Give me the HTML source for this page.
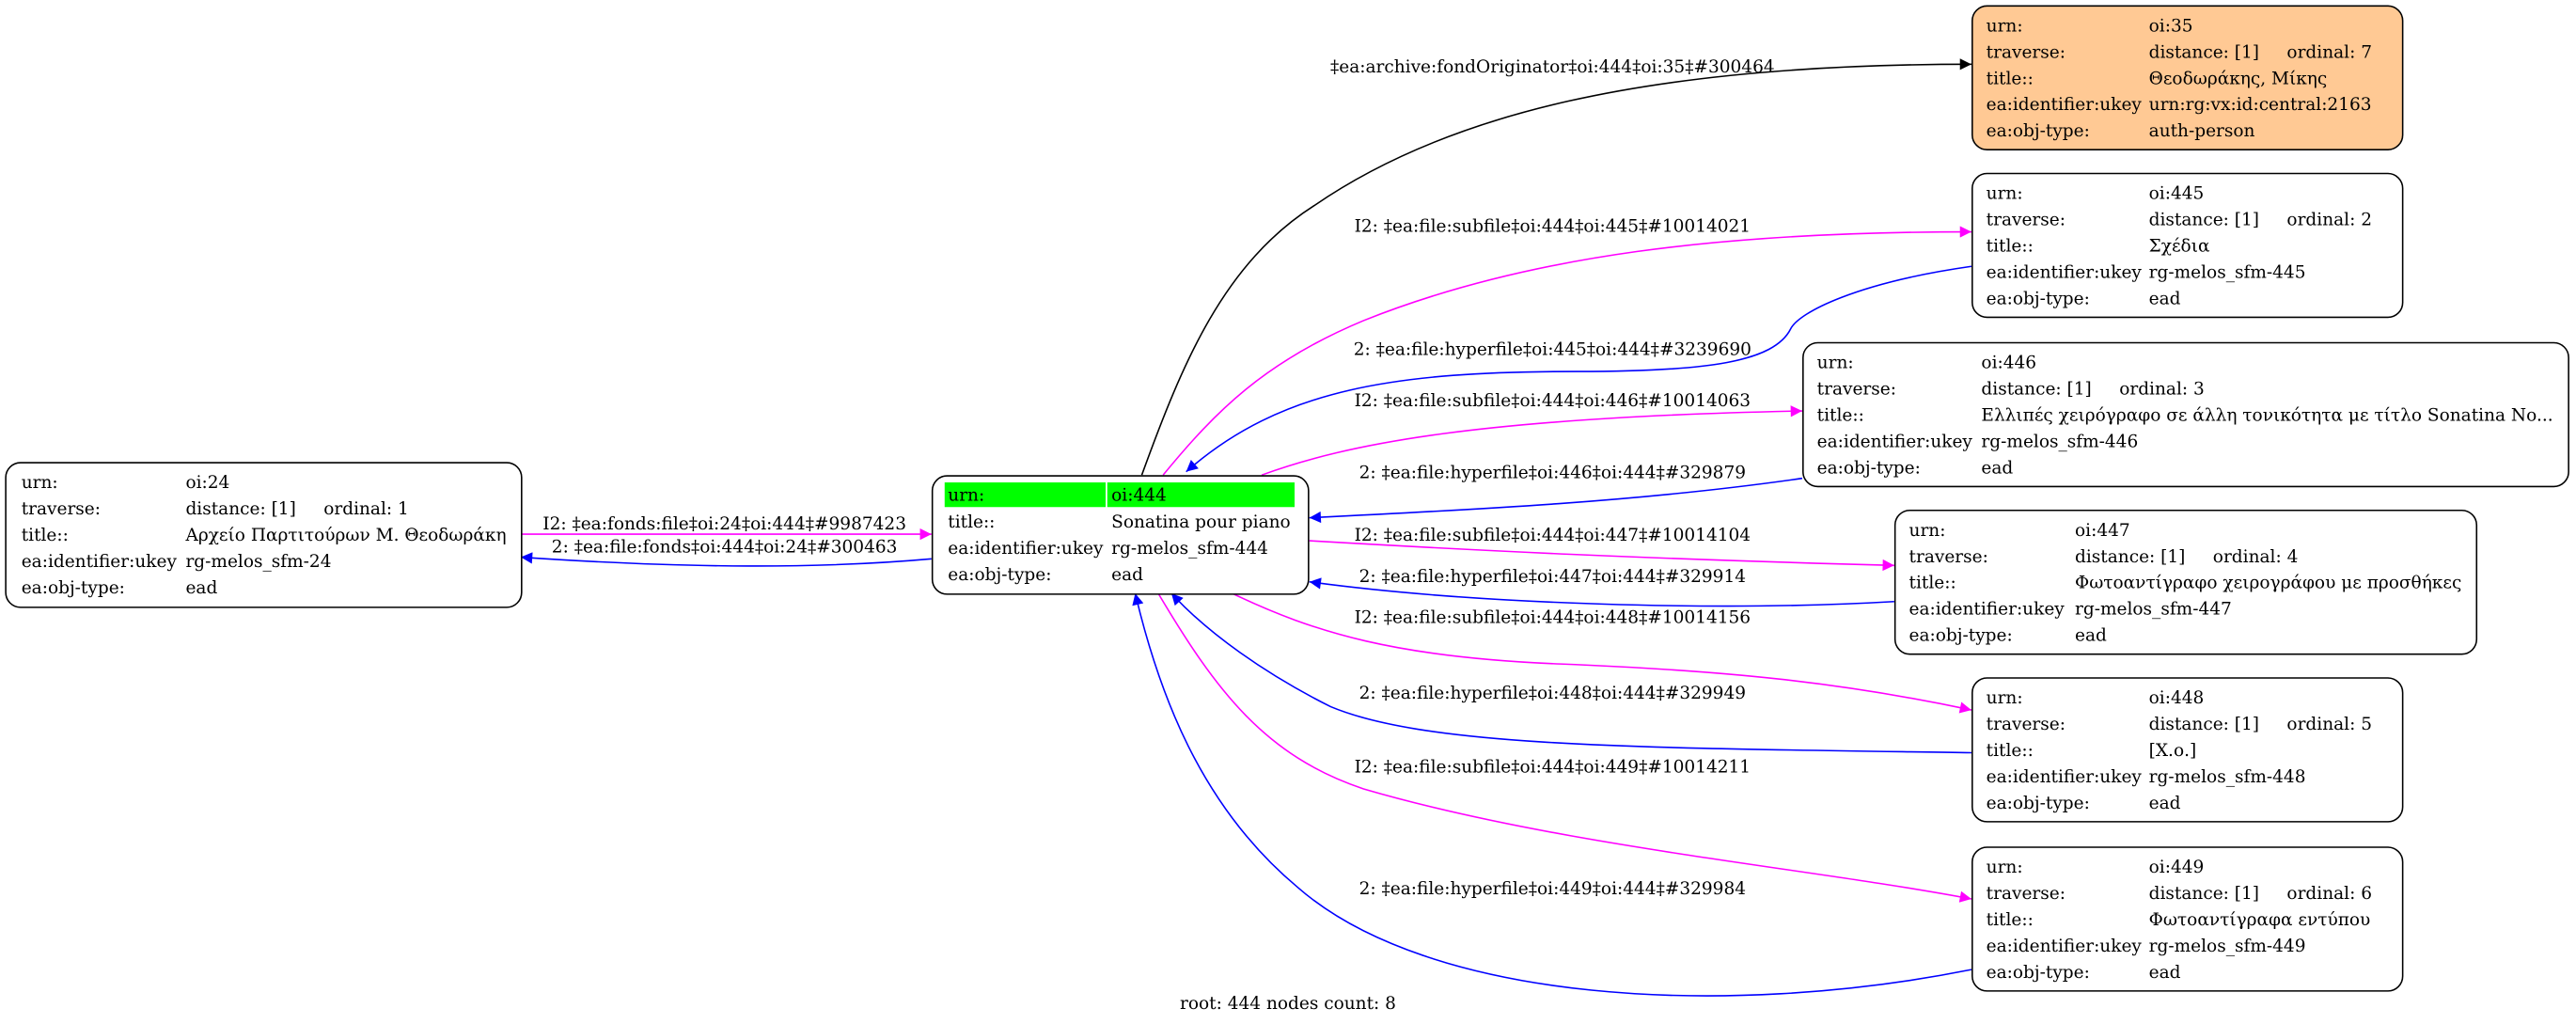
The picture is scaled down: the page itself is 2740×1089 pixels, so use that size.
<!DOCTYPE html>
<html><head><meta charset="utf-8">
<style>
html,body{margin:0;padding:0;background:#fff;}
svg{display:block;}
text{font-family:"DejaVu Serif","Liberation Serif",serif;font-size:10.6px;fill:#000;}
</style></head>
<body>
<svg width="2740" height="1089" viewBox="0 0 1568 623" xmlns="http://www.w3.org/2000/svg">
<defs>
<marker id="ak" viewBox="0 0 10 10" refX="10" refY="5" markerWidth="10" markerHeight="7" markerUnits="userSpaceOnUse" orient="auto"><path d="M0,0L10,5L0,10z" fill="#000"/></marker>
<marker id="am" viewBox="0 0 10 10" refX="10" refY="5" markerWidth="10" markerHeight="7" markerUnits="userSpaceOnUse" orient="auto"><path d="M0,0L10,5L0,10z" fill="#f0f"/></marker>
<marker id="ab" viewBox="0 0 10 10" refX="10" refY="5" markerWidth="10" markerHeight="7" markerUnits="userSpaceOnUse" orient="auto"><path d="M0,0L10,5L0,10z" fill="#00f"/></marker>
</defs>
<g fill="none" stroke-width="0.9">
<path d="M695,289 C720,220 745,160 800,125 C880,70 1000,39 1200,39" stroke="#000" marker-end="url(#ak)"/>
<path d="M708,289 C740,250 770,220 830,195 C930,155 1050,141 1200,141" stroke="#f0f" marker-end="url(#am)"/>
<path d="M1200,162 C1130,172 1095,190 1090,200 C1080,220 1040,226 960,226 C850,226 780,236 722,287" stroke="#00f" marker-end="url(#ab)"/>
<path d="M768,289 C820,270 900,254 1097,250" stroke="#f0f" marker-end="url(#am)"/>
<path d="M1097,291 C1000,305 900,310 797,315" stroke="#00f" marker-end="url(#ab)"/>
<path d="M797,329 C900,335 1000,340 1153,344" stroke="#f0f" marker-end="url(#am)"/>
<path d="M1153,366 C1050,372 900,368 797,354" stroke="#00f" marker-end="url(#ab)"/>
<path d="M750,361 C800,385 850,400 950,404 C1050,408 1120,415 1200,432" stroke="#f0f" marker-end="url(#am)"/>
<path d="M1200,458 C1000,455 870,455 810,430 C770,410 735,385 713,361" stroke="#00f" marker-end="url(#ab)"/>
<path d="M705,361 C740,420 770,460 830,480 C950,515 1100,528 1200,547" stroke="#f0f" marker-end="url(#am)"/>
<path d="M1200,590 C1050,620 870,610 790,540 C730,490 705,420 691,361" stroke="#00f" marker-end="url(#ab)"/>
<path d="M317,325 L567,325" stroke="#f0f" marker-end="url(#am)"/>
<path d="M567,340 C500,346 420,346 317,339" stroke="#00f" marker-end="url(#ab)"/>
</g>
<g text-anchor="middle">
<text x="945" y="44">‡ea:archive:fondOriginator‡oi:444‡oi:35‡#300464</text>
<text x="945" y="141">I2: ‡ea:file:subfile‡oi:444‡oi:445‡#10014021</text>
<text x="945" y="216">2: ‡ea:file:hyperfile‡oi:445‡oi:444‡#3239690</text>
<text x="945" y="247">I2: ‡ea:file:subfile‡oi:444‡oi:446‡#10014063</text>
<text x="945" y="291">2: ‡ea:file:hyperfile‡oi:446‡oi:444‡#329879</text>
<text x="945" y="329">I2: ‡ea:file:subfile‡oi:444‡oi:447‡#10014104</text>
<text x="945" y="354">2: ‡ea:file:hyperfile‡oi:447‡oi:444‡#329914</text>
<text x="945" y="379">I2: ‡ea:file:subfile‡oi:444‡oi:448‡#10014156</text>
<text x="945" y="425">2: ‡ea:file:hyperfile‡oi:448‡oi:444‡#329949</text>
<text x="945" y="470">I2: ‡ea:file:subfile‡oi:444‡oi:449‡#10014211</text>
<text x="945" y="544">2: ‡ea:file:hyperfile‡oi:449‡oi:444‡#329984</text>
<text x="441" y="322">I2: ‡ea:fonds:file‡oi:24‡oi:444‡#9987423</text>
<text x="441" y="336">2: ‡ea:file:fonds‡oi:444‡oi:24‡#300463</text>
<text x="784" y="614">root: 444 nodes count: 8</text>
</g>

<g stroke-width="0.9">
<rect x="3.5" y="281.5" width="314" height="88" rx="9" fill="#fff" stroke="#000"/>
<rect x="567.5" y="289.5" width="229" height="72" rx="9" fill="#fff" stroke="#000"/>
<rect x="1200.5" y="3.5" width="262" height="87.5" rx="9" fill="#ffc994" stroke="#000"/>
<rect x="1200.5" y="105.5" width="262" height="87.5" rx="9" fill="#fff" stroke="#000"/>
<rect x="1097.5" y="208.5" width="466" height="87.5" rx="9" fill="#fff" stroke="#000"/>
<rect x="1153.5" y="310.5" width="354" height="87.5" rx="9" fill="#fff" stroke="#000"/>
<rect x="1200.5" y="412.5" width="262" height="87.5" rx="9" fill="#fff" stroke="#000"/>
<rect x="1200.5" y="515.5" width="262" height="87.5" rx="9" fill="#fff" stroke="#000"/>
</g>

<text x="13" y="297">urn:</text><text x="113" y="297">oi:24</text>
<text x="13" y="313">traverse:</text><text x="113" y="313">distance: [1]</text><text x="197" y="313">ordinal: 1</text>
<text x="13" y="329">title::</text><text x="113" y="329">Αρχείο Παρτιτούρων Μ. Θεοδωράκη</text>
<text x="13" y="345">ea:identifier:ukey</text><text x="113" y="345">rg-melos_sfm-24</text>
<text x="13" y="361">ea:obj-type:</text><text x="113" y="361">ead</text>

<rect x="575" y="293.5" width="98" height="15" fill="#0f0"/>
<rect x="674" y="293.5" width="114" height="15" fill="#0f0"/>
<text x="577" y="304.5">urn:</text><text x="676.5" y="304.5">oi:444</text>
<text x="577" y="321">title::</text><text x="676.5" y="321">Sonatina pour piano</text>
<text x="577" y="337">ea:identifier:ukey</text><text x="676.5" y="337">rg-melos_sfm-444</text>
<text x="577" y="353">ea:obj-type:</text><text x="676.5" y="353">ead</text>

<text x="1209" y="19">urn:</text><text x="1308" y="19">oi:35</text>
<text x="1209" y="35">traverse:</text><text x="1308" y="35">distance: [1]</text><text x="1392" y="35">ordinal: 7</text>
<text x="1209" y="51">title::</text><text x="1308" y="51">Θεοδωράκης, Μίκης</text>
<text x="1209" y="67">ea:identifier:ukey</text><text x="1308" y="67">urn:rg:vx:id:central:2163</text>
<text x="1209" y="83">ea:obj-type:</text><text x="1308" y="83">auth-person</text>

<text x="1209" y="121">urn:</text><text x="1308" y="121">oi:445</text>
<text x="1209" y="137">traverse:</text><text x="1308" y="137">distance: [1]</text><text x="1392" y="137">ordinal: 2</text>
<text x="1209" y="153">title::</text><text x="1308" y="153">Σχέδια</text>
<text x="1209" y="169">ea:identifier:ukey</text><text x="1308" y="169">rg-melos_sfm-445</text>
<text x="1209" y="185">ea:obj-type:</text><text x="1308" y="185">ead</text>

<text x="1106" y="224">urn:</text><text x="1206" y="224">oi:446</text>
<text x="1106" y="240">traverse:</text><text x="1206" y="240">distance: [1]</text><text x="1290" y="240">ordinal: 3</text>
<text x="1106" y="256">title::</text><text x="1206" y="256">Ελλιπές χειρόγραφο σε άλλη τονικότητα με τίτλο Sonatina No...</text>
<text x="1106" y="272">ea:identifier:ukey</text><text x="1206" y="272">rg-melos_sfm-446</text>
<text x="1106" y="288">ea:obj-type:</text><text x="1206" y="288">ead</text>

<text x="1162" y="326">urn:</text><text x="1263" y="326">oi:447</text>
<text x="1162" y="342">traverse:</text><text x="1263" y="342">distance: [1]</text><text x="1347" y="342">ordinal: 4</text>
<text x="1162" y="358">title::</text><text x="1263" y="358">Φωτοαντίγραφο χειρογράφου με προσθήκες</text>
<text x="1162" y="374">ea:identifier:ukey</text><text x="1263" y="374">rg-melos_sfm-447</text>
<text x="1162" y="390">ea:obj-type:</text><text x="1263" y="390">ead</text>

<text x="1209" y="428">urn:</text><text x="1308" y="428">oi:448</text>
<text x="1209" y="444">traverse:</text><text x="1308" y="444">distance: [1]</text><text x="1392" y="444">ordinal: 5</text>
<text x="1209" y="460">title::</text><text x="1308" y="460">[Χ.ο.]</text>
<text x="1209" y="476">ea:identifier:ukey</text><text x="1308" y="476">rg-melos_sfm-448</text>
<text x="1209" y="492">ea:obj-type:</text><text x="1308" y="492">ead</text>

<text x="1209" y="531">urn:</text><text x="1308" y="531">oi:449</text>
<text x="1209" y="547">traverse:</text><text x="1308" y="547">distance: [1]</text><text x="1392" y="547">ordinal: 6</text>
<text x="1209" y="563">title::</text><text x="1308" y="563">Φωτοαντίγραφα εντύπου</text>
<text x="1209" y="579">ea:identifier:ukey</text><text x="1308" y="579">rg-melos_sfm-449</text>
<text x="1209" y="595">ea:obj-type:</text><text x="1308" y="595">ead</text>
</svg>
</body></html>
